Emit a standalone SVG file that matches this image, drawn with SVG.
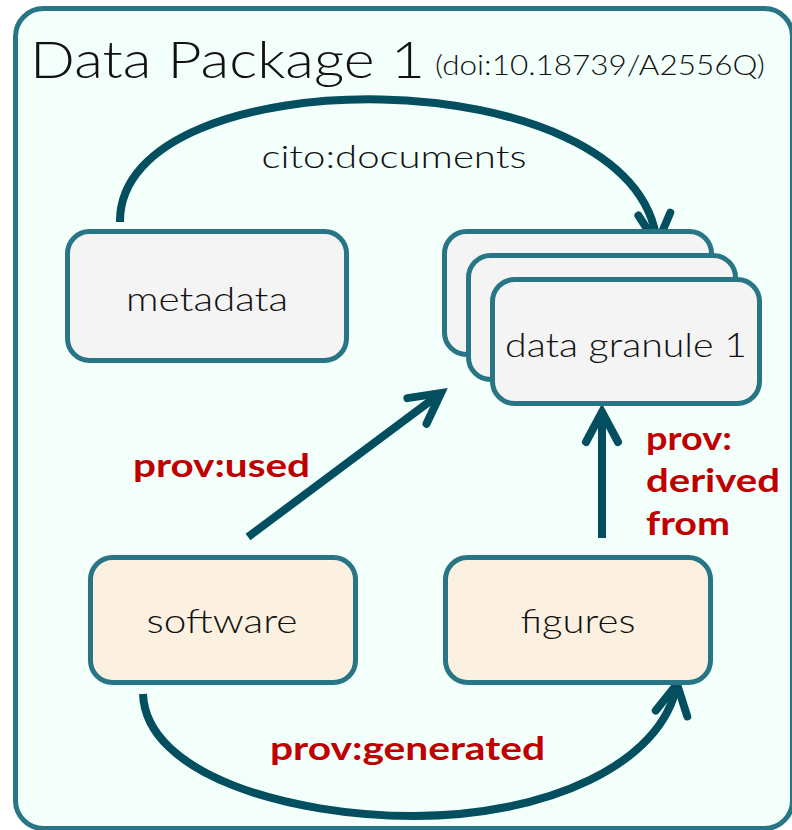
<svg xmlns="http://www.w3.org/2000/svg" width="792" height="830" viewBox="0 0 792 830">
  <style>
    .frame { fill: #f3fffb; stroke: #287585; stroke-width: 5; }
    .box { stroke: #287585; stroke-width: 5; }
    .grey { fill: #f4f4f4; }
    .tan { fill: #fcf1e0; }
    .lbl { font-family: Lato, "Open Sans", "Liberation Sans", sans-serif; font-weight: 300; fill: #111111; }
    .rel { font-family: Lato, "Open Sans", "Liberation Sans", sans-serif; font-weight: 700; fill: #c00000; font-size: 33px; }
    .conn { fill: none; stroke: #034e5f; stroke-width: 8; }
  </style>
  <defs>
    <marker id="arr" markerUnits="userSpaceOnUse" viewBox="-40 -25 50 50" refX="0" refY="0" markerWidth="50" markerHeight="50" orient="auto">
      <path d="M-30,-16 L0,0 L-30,16" fill="none" stroke="#034e5f" stroke-width="8" stroke-linecap="round" stroke-linejoin="miter"/>
    </marker>
  </defs>

  <g id="package">
    <rect class="frame" x="15.5" y="8.5" width="777" height="820" rx="28"/>
    <text class="lbl" x="30" y="78" font-size="52" textLength="395" lengthAdjust="spacingAndGlyphs">Data Package 1</text>
    <text class="lbl" x="435" y="75" font-size="27" textLength="330" lengthAdjust="spacingAndGlyphs">(doi:10.18739/A2556Q)</text>
  </g>

  <g id="connectors">
    <path class="conn" d="M120,222 C118,55 640,55 657,244" marker-end="url(#arr)"/>
    <path class="conn" d="M248,537 L441,393" marker-end="url(#arr)"/>
    <path class="conn" d="M602,538 L602,412" marker-end="url(#arr)"/>
    <path class="conn" d="M143,694 C146,775 290,816 414,816 C545,816 662,765 677,684" marker-end="url(#arr)"/>
    <text class="lbl" x="394" y="168" font-size="32" text-anchor="middle" textLength="265" lengthAdjust="spacingAndGlyphs">cito:documents</text>
    <text class="rel" x="133" y="477" textLength="177" lengthAdjust="spacingAndGlyphs">prov:used</text>
    <text class="rel" x="646" y="450" textLength="86" lengthAdjust="spacingAndGlyphs">prov:</text>
    <text class="rel" x="646" y="492" textLength="134" lengthAdjust="spacingAndGlyphs">derived</text>
    <text class="rel" x="646" y="535" textLength="84" lengthAdjust="spacingAndGlyphs">from</text>
    <text class="rel" x="270" y="760" textLength="275" lengthAdjust="spacingAndGlyphs">prov:generated</text>
  </g>

  <g id="metadata">
    <rect class="box grey" x="67.5" y="231.5" width="279" height="129" rx="22"/>
    <text class="lbl" x="207" y="311" font-size="34" text-anchor="middle" textLength="162" lengthAdjust="spacingAndGlyphs">metadata</text>
  </g>

  <g id="data-granule-1">
    <rect class="box grey" x="444.5" y="231.5" width="267" height="123" rx="22"/>
    <rect class="box grey" x="468.5" y="255.5" width="267" height="124" rx="22"/>
    <rect class="box grey" x="492.5" y="279.5" width="267" height="124" rx="22"/>
    <text class="lbl" x="626" y="357" font-size="34" text-anchor="middle" textLength="242" lengthAdjust="spacingAndGlyphs">data granule 1</text>
  </g>

  <g id="software">
    <rect class="box tan" x="90.5" y="557.5" width="265" height="125" rx="22"/>
    <text class="lbl" x="222" y="633" font-size="34" text-anchor="middle" textLength="151" lengthAdjust="spacingAndGlyphs">software</text>
  </g>

  <g id="figures">
    <rect class="box tan" x="445.5" y="557.5" width="265" height="125" rx="22"/>
    <text class="lbl" x="578" y="633" font-size="34" text-anchor="middle" textLength="115" lengthAdjust="spacingAndGlyphs">figures</text>
  </g>
</svg>
